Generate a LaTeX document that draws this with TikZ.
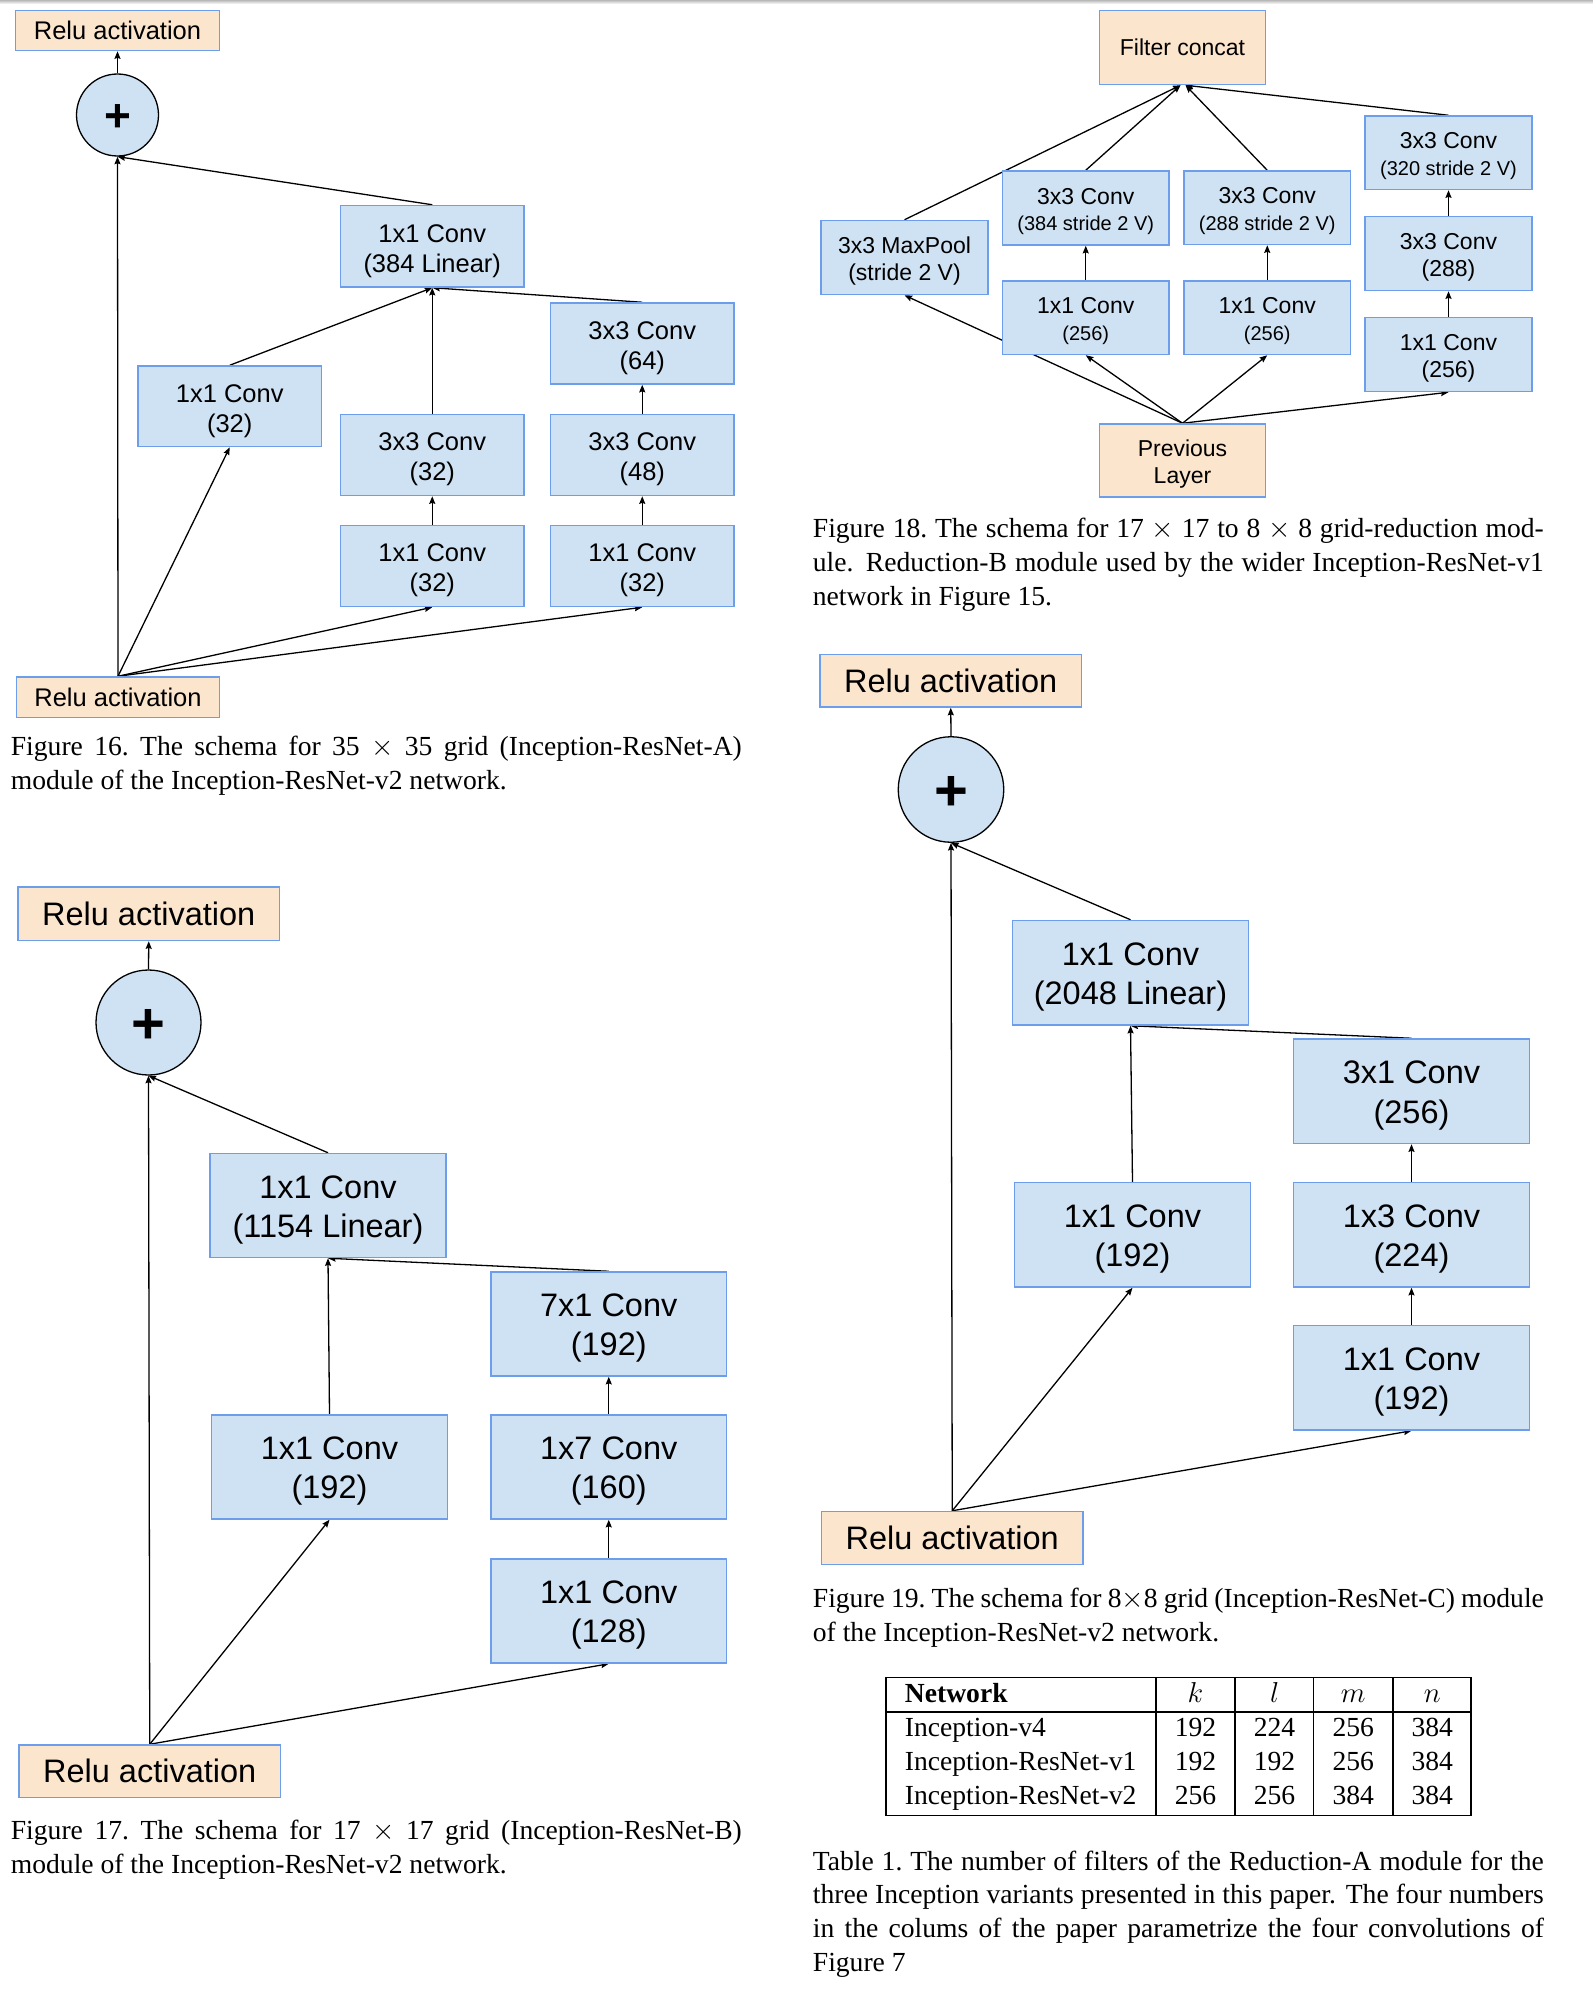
\documentclass[tikz,border=0pt]{standalone}
\usepackage{fontspec}
\setmainfont{Liberation Serif}
\newfontfamily\arialf{Liberation Sans}
\usetikzlibrary{arrows.meta,backgrounds}

\definecolor{boxfill}{HTML}{CFE2F3}
\definecolor{relufill}{HTML}{FCE5CD}
\definecolor{boxline}{HTML}{6D9EEB}

% fonts (1 unit = 0.5pt)
\newcommand\fA{\arialf\fontsize{12.75pt}{15pt}\selectfont}
\newcommand\fR{\arialf\fontsize{11.5pt}{13.3pt}\selectfont}
\newcommand\fRs{\fontsize{10pt}{13.3pt}\selectfont}
\newcommand\fB{\arialf\fontsize{16.25pt}{19.6pt}\selectfont}
\newcommand\pA{\arialf\bfseries\fontsize{23pt}{23pt}\selectfont}
\newcommand\pB{\arialf\bfseries\fontsize{29pt}{29pt}\selectfont}
\newcommand\capf{\fontsize{13.8pt}{16.85pt}\selectfont}
\newcommand\capline[1]{\makebox[365.5pt][s]{#1}}

% box from its corners: style, name, x1, y1, x2, y2, text
\newcommand\bx[7]{\node[#1, minimum width={(#5-#3)*0.5pt}, minimum height={(#6-#4)*0.5pt}] (#2) at ({(#3+#5)/2},{(#4+#6)/2}) {#7};}

\tikzset{
  box/.style={draw=boxline, line width=0.75pt, inner sep=0pt, align=center},
  conv/.style={box, fill=boxfill},
  relu/.style={box, fill=relufill},
  % two-line labels: height measured from the last baseline
  twoA/.style={text height=25.9pt, text depth=0pt},
  twoR/.style={text height=22.6pt, text depth=0pt},
  twoB/.style={text height=31.9pt, text depth=0pt},
  sumnode/.style={circle, draw=black, fill=boxfill, line width=0.65pt, inner sep=0pt, text depth=0pt},
  arr/.style={line width=0.65pt, -{Stealth[length=3.8pt,width=3pt,inset=0.5pt]}},
  tline/.style={line width=0.6pt},
  captext/.style={font=\capf, align=left, inner sep=0pt, anchor=base west},
  tcell/.style={font=\capf, inner sep=0pt, anchor=base}
}

\begin{document}
\begin{tikzpicture}[x=0.5pt, y=-0.5pt]
\useasboundingbox (0,0) rectangle (1593,1991);

% ---------------- Inception-ResNet-A ----------------
\bx{relu, font=\fA}{outA}{15.5}{10.5}{219.5}{50.5}{Relu activation}
\node[sumnode, minimum size=41pt, font=\pA, text height=16.3pt] (cA) at (117.5,115) {+};
\bx{conv, twoA, font=\fA}{linA}{340.5}{205.5}{524}{287}{1x1 Conv\\(384 Linear)}
\bx{conv, twoA, font=\fA}{a1}{138}{366}{321.5}{446.5}{1x1 Conv\\(32)}
\bx{conv, twoA, font=\fA}{a3}{340.5}{414.5}{524}{495.5}{3x3 Conv\\(32)}
\bx{conv, twoA, font=\fA}{a2}{340.5}{525.5}{524}{606.5}{1x1 Conv\\(32)}
\bx{conv, twoA, font=\fA}{a6}{550.5}{303}{734}{384}{3x3 Conv\\(64)}
\bx{conv, twoA, font=\fA}{a5}{550.5}{414.5}{734}{495.5}{3x3 Conv\\(48)}
\bx{conv, twoA, font=\fA}{a4}{550.5}{525.5}{734}{606.5}{1x1 Conv\\(32)}
\bx{relu, font=\fA}{inA}{16.5}{677}{219.5}{717.5}{Relu activation}

% ---------------- Reduction-B ----------------
\bx{relu, font=\fR}{fc}{1099.5}{10.5}{1265.5}{84.5}{Filter concat}
\bx{conv, twoR, font=\fR}{mp}{821}{220.5}{988}{294.5}{3x3 MaxPool\\(stride 2 V)}
\bx{conv, twoR, font=\fR}{r2}{1002.5}{171}{1169}{245}{3x3 Conv\\{\fRs (384 stride 2 V)}}
\bx{conv, twoR, font=\fR}{r4}{1184}{171}{1350.5}{244.5}{3x3 Conv\\{\fRs (288 stride 2 V)}}
\bx{conv, twoR, font=\fR}{r7}{1365}{116}{1532}{189.5}{3x3 Conv\\{\fRs (320 stride 2 V)}}
\bx{conv, twoR, font=\fR}{r1}{1002.5}{281}{1169}{354.5}{1x1 Conv\\{\fRs (256)}}
\bx{conv, twoR, font=\fR}{r3}{1184}{281}{1350.5}{354.5}{1x1 Conv\\{\fRs (256)}}
\bx{conv, twoR, font=\fR}{r6}{1365}{216.5}{1532}{290.5}{3x3 Conv\\(288)}
\bx{conv, twoR, font=\fR}{r5}{1365}{317.5}{1532}{391.5}{1x1 Conv\\(256)}
\bx{relu, twoR, font=\fR}{prev}{1099.5}{424}{1265.5}{497}{Previous\\Layer}

% ---------------- Inception-ResNet-B ----------------
\bx{relu, font=\fB}{outB}{18}{887}{279.5}{940.5}{Relu activation}
\node[sumnode, minimum size=52.5pt, font=\pB, text height=20.5pt] (cB) at (148.5,1022.5) {+};
\bx{conv, twoB, font=\fB}{linB}{210}{1153.5}{446}{1257.5}{1x1 Conv\\(1154 Linear)}
\bx{conv, twoB, font=\fB}{b4}{491}{1272}{726.5}{1376}{7x1 Conv\\(192)}
\bx{conv, twoB, font=\fB}{b1}{211.5}{1415}{447.5}{1519}{1x1 Conv\\(192)}
\bx{conv, twoB, font=\fB}{b3}{491}{1415}{726.5}{1519}{1x7 Conv\\(160)}
\bx{conv, twoB, font=\fB}{b2}{491}{1559}{726.5}{1663}{1x1 Conv\\(128)}
\bx{relu, font=\fB}{inB}{19}{1745}{280.5}{1797.5}{Relu activation}

% ---------------- Inception-ResNet-C ----------------
\bx{relu, font=\fB}{outC}{820}{654.5}{1081.5}{707}{Relu activation}
\node[sumnode, minimum size=52.75pt, font=\pB, text height=20.5pt] (cC) at (951,789.5) {+};
\bx{conv, twoB, font=\fB}{linC}{1012.5}{920.5}{1248.5}{1025}{1x1 Conv\\(2048 Linear)}
\bx{conv, twoB, font=\fB}{c4}{1293.5}{1039}{1529.5}{1143.5}{3x1 Conv\\(256)}
\bx{conv, twoB, font=\fB}{c1}{1014.5}{1182.5}{1250.5}{1287}{1x1 Conv\\(192)}
\bx{conv, twoB, font=\fB}{c3}{1293.5}{1182.5}{1529.5}{1287}{1x3 Conv\\(224)}
\bx{conv, twoB, font=\fB}{c2}{1293.5}{1325.5}{1529.5}{1430}{1x1 Conv\\(192)}
\bx{relu, font=\fB}{inC}{821.5}{1511.5}{1083}{1564.5}{Relu activation}

% ---------------- connectors ----------------
\begin{scope}[on background layer]
  \fill[white] (0,0) rectangle (1593,1991);
  \shade[top color=black!28, bottom color=white] (0,0) rectangle (1593,4);

  % A
  \draw[arr] (inA.north) -- (cA.south);
  \draw[arr] (cA.north) -- (outA.south);
  \draw[arr] (inA.north) -- (a1.south);
  \draw[arr] (inA.north) -- (a2.south);
  \draw[arr] (inA.north) -- (a4.south);
  \draw[arr] (a2.north) -- (a3.south);
  \draw[arr] (a4.north) -- (a5.south);
  \draw[arr] (a5.north) -- (a6.south);
  \draw[arr] (a1.north) -- (linA.south);
  \draw[arr] (a3.north) -- (linA.south);
  \draw[arr] (a6.north) -- (linA.south);
  \draw[arr] (linA.north) -- (cA.south);

  % Reduction-B
  \draw[arr] (prev.north) -- (mp.south);
  \draw[arr] (prev.north) -- (r1.south);
  \draw[arr] (prev.north) -- (r3.south);
  \draw[arr] (prev.north) -- (r5.south);
  \draw[arr] (r1.north) -- (r2.south);
  \draw[arr] (r3.north) -- (r4.south);
  \draw[arr] (r5.north) -- (r6.south);
  \draw[arr] (r6.north) -- (r7.south);
  \draw[arr] (mp.north) -- ([xshift=-1pt]fc.south);
  \draw[arr] (r2.north) -- ([xshift=-1pt]fc.south);
  \draw[arr] (r4.north) -- ([xshift=1.5pt]fc.south);
  \draw[arr] (r7.north) -- ([xshift=1.5pt]fc.south);

  % B
  \draw[arr] (inB.north) -- (cB.south);
  \draw[arr] (cB.north) -- (outB.south);
  \draw[arr] (inB.north) -- (b1.south);
  \draw[arr] (inB.north) -- (b2.south);
  \draw[arr] (b2.north) -- (b3.south);
  \draw[arr] (b3.north) -- (b4.south);
  \draw[arr] (b1.north) -- (linB.south);
  \draw[arr] (b4.north) -- (linB.south);
  \draw[arr] (linB.north) -- (cB.south);

  % C
  \draw[arr] (inC.north) -- (cC.south);
  \draw[arr] (cC.north) -- (outC.south);
  \draw[arr] (inC.north) -- (c1.south);
  \draw[arr] (inC.north) -- (c2.south);
  \draw[arr] (c2.north) -- (c3.south);
  \draw[arr] (c3.north) -- (c4.south);
  \draw[arr] (c1.north) -- (linC.south);
  \draw[arr] (c4.north) -- (linC.south);
  \draw[arr] (linC.north) -- (cC.south);
\end{scope}

% ---------------- captions (anchored at the last baseline) ----------------
\node[captext] (capA) at (10.5,789.5) {\capline{Figure 16.\ The schema for 35 $\times$ 35 grid (Inception-ResNet-A)}\\module of the Inception-ResNet-v2 network.};
\node[captext] (capB) at (10.5,1873.5) {\capline{Figure 17.\ The schema for 17 $\times$ 17 grid (Inception-ResNet-B)}\\module of the Inception-ResNet-v2 network.};
\node[captext] (capR) at (812.5,605) {\capline{Figure 18.\ The schema for 17 $\times$ 17 to 8 $\times$ 8 grid-reduction mod-}\\\capline{ule. Reduction-B module used by the wider Inception-ResNet-v1}\\network in Figure 15.};
\node[captext] (capC) at (812.5,1641) {\capline{Figure 19.\ The schema for 8$\times$8 grid (Inception-ResNet-C) module}\\of the Inception-ResNet-v2 network.};
\node[captext] (capT) at (812.5,1971.3) {\capline{Table 1.\ The number of filters of the Reduction-A module for the}\\\capline{three Inception variants presented in this paper. The four numbers}\\\capline{in the colums of the paper parametrize the four convolutions of}\\Figure 7};

% ---------------- table ----------------
\draw[tline] (886,1677.5) rectangle (1471,1815.5);
\draw[tline] (886,1712) -- (1471,1712);
\foreach \vx in {1156,1235,1313.5,1393}
  \draw[tline] (\vx,1677.5) -- (\vx,1815.5);

\node[tcell, anchor=base west] (th0) at (904.5,1702) {\bfseries Network};
\node[tcell] (th1) at (1195.5,1702) {$k$};
\node[tcell] (th2) at (1274.5,1702) {$l$};
\node[tcell] (th3) at (1353.2,1702) {$m$};
\node[tcell] (th4) at (1432.2,1702) {$n$};

\foreach \nm/\k/\l/\m/\n [count=\r] in {Inception-v4/192/224/256/384,
    Inception-ResNet-v1/192/192/256/384,
    Inception-ResNet-v2/256/256/384/384} {
  \pgfmathsetmacro\by{1702+34.3*\r}
  \node[tcell, anchor=base west] (t\r0) at (904.5,\by) {\nm};
  \node[tcell] (t\r1) at (1195.5,\by) {\k};
  \node[tcell] (t\r2) at (1274.5,\by) {\l};
  \node[tcell] (t\r3) at (1353.2,\by) {\m};
  \node[tcell] (t\r4) at (1432.2,\by) {\n};
}
\end{tikzpicture}
\end{document}
